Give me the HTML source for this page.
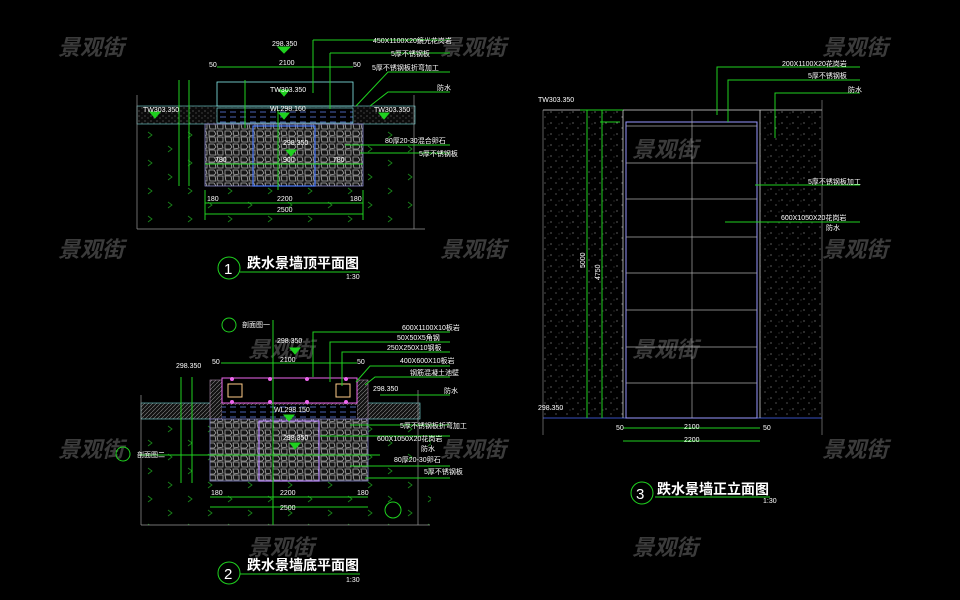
<!DOCTYPE html>
<html><head><meta charset="utf-8"><style>
html,body{margin:0;padding:0;background:#000;}
svg{display:block}
text{font-family:"Liberation Sans","Noto Sans CJK SC",sans-serif;}
.g{stroke:#1fd11f;stroke-width:1;fill:none}
.t{fill:#fff;font-size:7px}
.wm{fill:#555;font-size:22px;font-style:italic;font-weight:bold;font-family:"Noto Sans CJK SC",sans-serif;opacity:.7}
</style></head><body>
<svg width="960" height="600" viewBox="0 0 960 600" xmlns="http://www.w3.org/2000/svg">
<defs>
<pattern id="stone" width="16" height="13" patternUnits="userSpaceOnUse">
<rect width="16" height="13" fill="#151515"/>
<path d="M1 1 L6 1 L8 4 L6 6 L1 6 Z M9 1 L14 1 L15 5 L10 6 Z M1 7 L7 7 L8 12 L2 12 Z M9 7 L15 7 L15 12 L10 12 Z" fill="none" stroke="#aaa" stroke-width=".8"/>
</pattern>
<pattern id="speck" width="11" height="11" patternUnits="userSpaceOnUse">
<rect width="11" height="11" fill="#000"/>
<circle cx="1" cy="2" r=".5" fill="#eee"/><circle cx="6" cy="7" r=".5" fill="#ccc"/><circle cx="9" cy="3" r=".4" fill="#aaa"/>
</pattern>
<pattern id="soil" width="6" height="5" patternUnits="userSpaceOnUse">
<rect width="6" height="5" fill="#0a0a0a"/><circle cx="1" cy="1" r=".5" fill="#aaa"/><circle cx="4" cy="3" r=".5" fill="#888"/>
</pattern>
<pattern id="hatch" width="4" height="4" patternUnits="userSpaceOnUse">
<rect width="4" height="4" fill="#111"/><path d="M0 4 L4 0" stroke="#888" stroke-width=".6"/>
</pattern>
<pattern id="water" width="10" height="5" patternUnits="userSpaceOnUse">
<rect width="10" height="5" fill="#000"/><path d="M0 2 H6" stroke="#6a8cff" stroke-width=".7"/>
</pattern>
<pattern id="grass" width="40" height="28" patternUnits="userSpaceOnUse">
<path d="M8 6 l4 3 l-4 3 M28 20 l4 3 l-4 3" stroke="#1a8a1a" fill="none" stroke-width=".8"/>
</pattern>
</defs>

<g class="wm">
<text x="58" y="55">景观街</text><text x="440" y="55">景观街</text><text x="822" y="55">景观街</text>
<text x="58" y="257">景观街</text><text x="440" y="257">景观街</text><text x="822" y="257">景观街</text>
<text x="58" y="457">景观街</text><text x="440" y="457">景观街</text><text x="822" y="457">景观街</text>
<text x="248" y="357">景观街</text><text x="632" y="157">景观街</text><text x="632" y="357">景观街</text>
<text x="248" y="555">景观街</text><text x="632" y="555">景观街</text>
</g>

<!-- VIEW 1 -->
<rect x="137" y="124" width="288" height="105" fill="url(#grass)"/>
<rect x="137" y="106" width="278" height="18" fill="url(#soil)" stroke="#7dd" stroke-width=".6"/>
<rect x="217" y="82" width="136" height="24" fill="#000" stroke="#8ee" stroke-width=".8"/>
<rect x="217" y="108" width="136" height="15" fill="url(#water)" stroke="#8ee" stroke-width=".6"/>
<rect x="205" y="124" width="158" height="62" fill="url(#stone)" stroke="#88c" stroke-width=".8"/>
<rect x="253" y="126" width="62" height="60" fill="none" stroke="#4a7aff" stroke-width="1.2"/>
<line x1="137" y1="229" x2="425" y2="229" stroke="#999" stroke-width=".7"/>
<line x1="137" y1="95" x2="137" y2="229" stroke="#999" stroke-width=".7"/>
<line x1="414" y1="95" x2="414" y2="229" stroke="#999" stroke-width=".7"/>
<g class="g">
<line x1="217" y1="67" x2="353" y2="67"/>
<line x1="179" y1="80" x2="179" y2="186"/><line x1="189" y1="80" x2="189" y2="186"/>
<line x1="245" y1="80" x2="245" y2="128"/>
<line x1="205" y1="203" x2="363" y2="203"/><line x1="205" y1="214" x2="363" y2="214"/>
<line x1="205" y1="164" x2="363" y2="164"/>
<line x1="205" y1="190" x2="205" y2="220"/><line x1="363" y1="190" x2="363" y2="220"/>
<line x1="278" y1="110" x2="278" y2="190"/>
<line x1="313" y1="40" x2="450" y2="40"/><line x1="313" y1="40" x2="313" y2="93"/>
<line x1="330" y1="53" x2="450" y2="53"/><line x1="330" y1="53" x2="330" y2="109"/>
<polyline points="356,106 388,72 450,72"/><polyline points="370,106 388,92 450,92"/>
<polyline points="345,145 450,145"/><polyline points="360,153 450,153"/>
<polygon points="150,112 160,112 155,118" fill="#1fd11f"/><polygon points="279,90 289,90 284,96" fill="#1fd11f"/>
<polygon points="279,113 289,113 284,119" fill="#1fd11f"/><polygon points="379,113 389,113 384,119" fill="#1fd11f"/>
<polygon points="278,47 290,47 284,53" fill="#1fd11f"/><polygon points="286,150 296,150 291,156" fill="#1fd11f"/>
<circle cx="229" cy="268" r="11"/><line x1="240" y1="272" x2="360" y2="272"/>
</g>
<g class="t">
<text x="272" y="46">298.350</text><text x="209" y="67">50</text><text x="279" y="65">2100</text><text x="353" y="67">50</text>
<text x="143" y="112">TW303.350</text><text x="270" y="92">TW303.350</text><text x="270" y="111">WL298.160</text><text x="374" y="112">TW303.350</text>
<text x="283" y="145">298.350</text><text x="215" y="162">780</text><text x="283" y="162">900</text><text x="333" y="162">780</text>
<text x="207" y="201">180</text><text x="277" y="201">2200</text><text x="350" y="201">180</text><text x="277" y="212">2500</text>
<text x="373" y="43">450X1100X20鏡光花岗岩</text><text x="391" y="56">5厚不锈钢板</text><text x="372" y="70">5厚不锈钢板折弯加工</text><text x="437" y="90">防水</text>
<text x="385" y="143">80厚20-30混合卵石</text><text x="419" y="156">5厚不锈钢板</text>
<text x="346" y="279">1:30</text>
</g>
<text x="224" y="274" fill="#fff" font-size="15">1</text>
<text x="247" y="268" fill="#fff" font-size="14" font-weight="bold">跌水景墙顶平面图</text>

<!-- VIEW 2 -->
<rect x="141" y="419" width="290" height="106" fill="url(#grass)"/>
<rect x="141" y="403" width="279" height="16" fill="url(#hatch)" stroke="#7dd" stroke-width=".6"/>
<rect x="210" y="380" width="12" height="39" fill="url(#hatch)" stroke="#a8a" stroke-width=".6"/>
<rect x="357" y="380" width="11" height="39" fill="url(#hatch)" stroke="#a8a" stroke-width=".6"/>
<rect x="222" y="378" width="135" height="25" fill="#000" stroke="#e6e" stroke-width="1"/>
<rect x="228" y="384" width="14" height="13" fill="none" stroke="#fc8" stroke-width="1"/>
<rect x="336" y="384" width="14" height="13" fill="none" stroke="#fc8" stroke-width="1"/>
<rect x="222" y="405" width="135" height="14" fill="url(#water)"/>
<rect x="210" y="419" width="158" height="62" fill="url(#stone)" stroke="#88c" stroke-width=".8"/>
<rect x="259" y="421" width="60" height="60" fill="none" stroke="#b8f" stroke-width="1.2"/>
<line x1="141" y1="525" x2="430" y2="525" stroke="#999" stroke-width=".7"/>
<line x1="141" y1="395" x2="141" y2="525" stroke="#999" stroke-width=".7"/>
<line x1="418" y1="390" x2="418" y2="525" stroke="#999" stroke-width=".7"/>
<g class="g">
<line x1="221" y1="363" x2="357" y2="363"/>
<line x1="181" y1="377" x2="181" y2="483"/><line x1="192" y1="377" x2="192" y2="483"/>
<line x1="210" y1="497" x2="368" y2="497"/><line x1="210" y1="507" x2="368" y2="507"/>
<line x1="140" y1="455" x2="380" y2="455"/><line x1="273" y1="320" x2="273" y2="525"/>
<polyline points="313,377 313,332 450,332"/><polyline points="330,382 330,342 450,342"/><polyline points="342,386 342,352 450,352"/>
<polyline points="356,382 370,366 450,366"/><polyline points="365,385 375,377 450,377"/><polyline points="380,395 450,395"/>
<polyline points="350,425 450,425"/><polyline points="320,436 450,436"/><polyline points="350,466 450,466"/><polyline points="365,478 450,478"/>
<polygon points="290,348 300,348 295,354" fill="#1fd11f"/><polygon points="284,415 294,415 289,421" fill="#1fd11f"/><polygon points="290,443 300,443 295,449" fill="#1fd11f"/>
<circle cx="229" cy="325" r="7"/><circle cx="123" cy="454" r="7"/><circle cx="393" cy="510" r="8"/>
<circle cx="229" cy="573" r="11"/><line x1="240" y1="574" x2="360" y2="574"/>
</g>
<g fill="#e6e"><circle cx="232" cy="379" r="2"/><circle cx="270" cy="379" r="2"/><circle cx="307" cy="379" r="2"/><circle cx="346" cy="379" r="2"/><circle cx="232" cy="402" r="2"/><circle cx="270" cy="402" r="2"/><circle cx="307" cy="402" r="2"/><circle cx="346" cy="402" r="2"/></g>
<g class="t">
<text x="242" y="327">剖面图一</text><text x="277" y="343">298.350</text><text x="176" y="368">298.350</text><text x="212" y="364">50</text><text x="280" y="362">2100</text><text x="357" y="364">50</text>
<text x="373" y="391">298.350</text><text x="274" y="412">WL298.150</text><text x="283" y="440">298.350</text><text x="137" y="457">剖面图二</text>
<text x="211" y="495">180</text><text x="280" y="495">2200</text><text x="357" y="495">180</text><text x="280" y="510">2500</text>
<text x="402" y="330">600X1100X10板岩</text><text x="397" y="340">50X50X5角钢</text><text x="387" y="350">250X250X10钢板</text><text x="400" y="363">400X600X10板岩</text><text x="410" y="375">钢筋混凝土池壁</text><text x="444" y="393">防水</text>
<text x="400" y="428">5厚不锈钢板折弯加工</text><text x="377" y="441">600X1050X20花岗岩</text><text x="421" y="451">防水</text><text x="394" y="462">80厚20-30卵石</text><text x="424" y="474">5厚不锈钢板</text>
<text x="346" y="582">1:30</text>
</g>
<text x="224" y="579" fill="#fff" font-size="15">2</text>
<text x="247" y="570" fill="#fff" font-size="14" font-weight="bold">跌水景墙底平面图</text>

<!-- VIEW 3 -->
<rect x="543" y="110" width="80" height="308" fill="url(#speck)"/>
<rect x="760" y="110" width="62" height="308" fill="url(#speck)"/>
<line x1="543" y1="110" x2="822" y2="110" stroke="#ddd" stroke-width=".8"/>
<line x1="543" y1="418" x2="822" y2="418" stroke="#4a6aff" stroke-width=".8"/>
<line x1="543" y1="110" x2="543" y2="435" stroke="#999" stroke-width=".6"/>
<line x1="822" y1="100" x2="822" y2="435" stroke="#999" stroke-width=".6"/>
<line x1="623" y1="110" x2="623" y2="418" stroke="#ccc" stroke-width=".8"/>
<line x1="760" y1="110" x2="760" y2="418" stroke="#ccc" stroke-width=".8"/>
<rect x="626" y="122" width="131" height="296" fill="none" stroke="#99f" stroke-width="1"/>
<g stroke="#aaa" stroke-width=".7">
<line x1="626" y1="126" x2="757" y2="126"/><line x1="626" y1="163" x2="757" y2="163"/><line x1="626" y1="199" x2="757" y2="199"/>
<line x1="626" y1="237" x2="757" y2="237"/><line x1="626" y1="273" x2="757" y2="273"/><line x1="626" y1="310" x2="757" y2="310"/>
<line x1="626" y1="347" x2="757" y2="347"/><line x1="626" y1="383" x2="757" y2="383"/><line x1="692" y1="110" x2="692" y2="418"/>
</g>
<g class="g">
<line x1="587" y1="110" x2="587" y2="418"/><line x1="602" y1="110" x2="602" y2="418"/>
<line x1="580" y1="110" x2="623" y2="110"/><line x1="600" y1="122" x2="620" y2="122"/>
<line x1="623" y1="428" x2="760" y2="428"/><line x1="623" y1="441" x2="760" y2="441"/>
<polyline points="717,115 717,67 860,67"/><polyline points="728,122 728,80 860,80"/><polyline points="775,138 775,93 860,93"/>
<line x1="755" y1="185" x2="860" y2="185"/><line x1="725" y1="222" x2="860" y2="222"/>
<circle cx="642" cy="493" r="11"/><line x1="655" y1="497" x2="770" y2="497"/>
</g>
<g class="t">
<text x="538" y="102">TW303.350</text><text x="538" y="410">298.350</text>
<text x="782" y="66">200X1100X20花岗岩</text><text x="808" y="78">5厚不锈钢板</text><text x="848" y="92">防水</text>
<text x="808" y="184">5厚不锈钢板加工</text><text x="781" y="220">600X1050X20花岗岩</text><text x="826" y="230">防水</text>
<text x="616" y="430">50</text><text x="684" y="429">2100</text><text x="763" y="430">50</text><text x="684" y="442">2200</text>
<text x="763" y="503">1:30</text>
<text transform="translate(585,268) rotate(-90)">5000</text><text transform="translate(600,280) rotate(-90)">4750</text>
</g>
<text x="636" y="499" fill="#fff" font-size="15">3</text>
<text x="657" y="494" fill="#fff" font-size="14" font-weight="bold">跌水景墙正立面图</text>
</svg>
</body></html>
